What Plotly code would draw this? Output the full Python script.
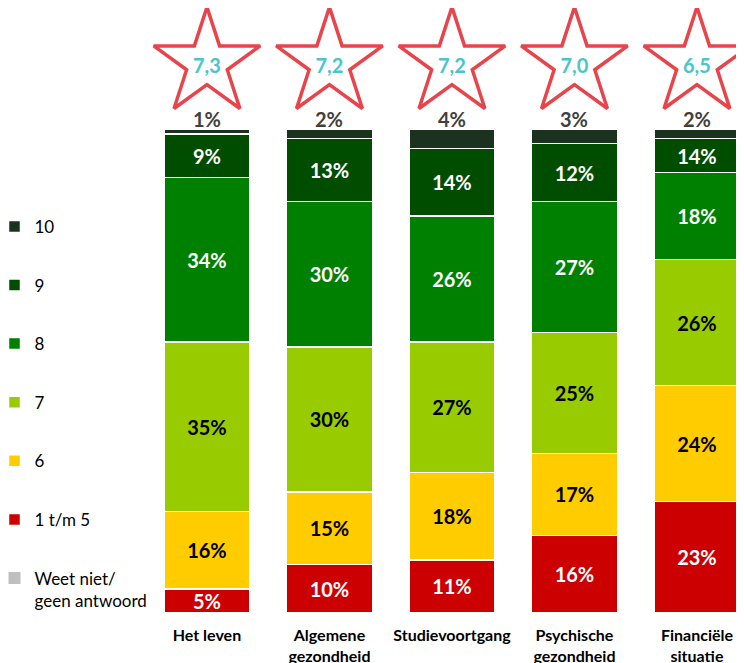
import plotly.graph_objects as go

categories = ["Het leven", "Algemene<br>gezondheid", "Studievoortgang",
              "Psychische<br>gezondheid", "Financiële<br>situatie"]
scores = ["7,3", "7,2", "7,2", "7,0", "6,5"]

# segment heights (%), bottom to top
weet_niet = [0, 0, 0, 0, 0]
s1_5 = [5, 10, 11, 16, 23]
s6 = [16, 15, 18, 17, 24]
s7 = [35, 30, 27, 25, 26]
s8 = [34, 30, 26, 27, 18]
s9 = [9, 13, 14, 12, 7]
s10 = [1, 2, 4, 3, 2]
# label printed on the "9" segments (the last one reads 14% in the original)
s9_labels = ["9%", "13%", "14%", "12%", "14%"]

FONT = "Lato"
series = [
    ("Weet niet/<br>geen antwoord", weet_niet, "#BFBFBF", "white", None),
    ("1 t/m 5", s1_5, "#CC0000", "white", None),
    ("6", s6, "#FFCC00", "black", None),
    ("7", s7, "#99CC00", "black", None),
    ("8", s8, "#008000", "white", None),
    ("9", s9, "#004D00", "white", s9_labels),
    ("10", s10, "#1B321F", "#404040", None),
]

fig = go.Figure()
for i, (name, vals, color, tcol, labels) in enumerate(series):
    text = labels if labels is not None else [f"{v}%" for v in vals]
    if name.startswith("Weet") or name == "10":
        text = None
    fig.add_trace(go.Bar(
        x=categories, y=vals, name=name,
        marker=dict(color=color, line=dict(color="white", width=0 if name.startswith("Weet") else 1.5)),
        text=text,
        textposition="inside",
        insidetextanchor="middle",
        constraintext="none",
        insidetextfont=dict(family=FONT, size=20, color=tcol, weight="bold"),
        textangle=0,
        legendgroup=name,
        legendrank=100 - i,
        width=0.7,
        hoverinfo="skip",
    ))

# labels for the top ("10") segment, above each stack
totals = [sum(v) for v in zip(weet_niet, s1_5, s6, s7, s8, s9, s10)]
for cat, tot, v in zip(categories, totals, s10):
    fig.add_annotation(x=cat, y=tot, text=f"{v}%", showarrow=False,
                       yanchor="bottom", yshift=-4,
                       font=dict(family=FONT, size=20, color="#404040", weight="bold"))

star_y = [113.6] * len(categories)
fig.add_trace(go.Scatter(
    x=categories, y=star_y, mode="markers",
    marker=dict(symbol="star-open", size=80, color="#E8444B",
                line=dict(width=3.5, color="#E8444B")),
    showlegend=False, cliponaxis=False, hoverinfo="skip",
))
fig.add_trace(go.Scatter(
    x=categories, y=[v - 1.0 for v in star_y], mode="text",
    text=scores, textposition="middle center",
    textfont=dict(family=FONT, size=20, color="#4BC4CA", weight="bold"),
    showlegend=False, cliponaxis=False, hoverinfo="skip",
))

fig.update_layout(
    width=736, height=655,
    margin=dict(l=142, r=0, t=0, b=50, autoexpand=False),
    barmode="stack",
    plot_bgcolor="white", paper_bgcolor="white",
    font=dict(family=FONT, color="black"),
    legend=dict(
        x=-13.5 / 594 - 142 / 594, xanchor="left", y=0.668, yanchor="top",
        traceorder="grouped", tracegroupgap=33.5, valign="top",
        font=dict(family=FONT, size=17, color="black"),
        bgcolor="rgba(0,0,0,0)",
    ),
    xaxis=dict(range=[-0.465, 4.384], showgrid=False, zeroline=False,
               showline=False, ticks="", automargin=False, ticklabelstandoff=11,
               tickfont=dict(family=FONT, size=16, color="black", weight="bold")),
    yaxis=dict(range=[0, 125.0], visible=False, showgrid=False, automargin=False),
)

fig.write_html("out.html")
